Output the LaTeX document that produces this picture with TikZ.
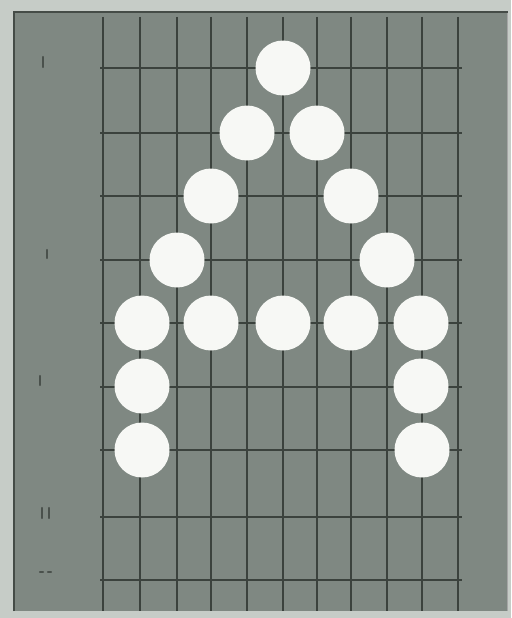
\documentclass[tikz,border=0pt]{standalone}
\definecolor{outerbg}{HTML}{C6CCC7}
\definecolor{panel}{HTML}{7F8882}
\definecolor{gridline}{HTML}{3B423D}
\definecolor{edge}{HTML}{454C47}
\definecolor{dotwhite}{HTML}{F7F8F5}
\definecolor{mark}{HTML}{4A514C}
\begin{document}
\begin{tikzpicture}[x=1pt,y=-1pt,
  gridv/.style={draw=gridline,line width=1.8pt},
  gridh/.style={draw=gridline,line width=1.8pt},
  stone/.style={circle,fill=dotwhite,minimum size=55pt,inner sep=0pt},
  tickmark/.style={draw=mark,line width=2.2pt,line cap=round}]
\useasboundingbox (0,0) rectangle (511,618);
\fill[outerbg] (0,0) rectangle (511,618);
\fill[panel] (13,12) rectangle (508,611);
\draw[edge,line width=2.5pt] (14,611) -- (14,12) -- (508,12);
\draw[gray!70,line width=1pt] (507,13) -- (507,611);
% vertical grid lines
\foreach \x in {103,140,177,211,247,283,317,351,387,422,458}
  \draw[gridv] (\x,17) -- (\x,611);
% horizontal grid lines
\foreach \y in {68,133,196,260,323,387,450,517,580}
  \draw[gridh] (100,\y) -- (462,\y);
% left tick marks
\draw[tickmark] (43,57) -- (43,67);
\draw[tickmark] (47,250) -- (47,258);
\draw[tickmark] (40,376) -- (40,385);
\draw[tickmark] (42,508) -- (42,518);
\draw[tickmark] (49,508) -- (49,518);
\draw[tickmark] (40,572) -- (43,572);
\draw[tickmark] (48,572) -- (51,572);
% stones forming the letter A
\node[stone] (s1) at (283,68) {};
\node[stone] (s2) at (247,133) {};
\node[stone] (s3) at (317,133) {};
\node[stone] (s4) at (211,196) {};
\node[stone] (s5) at (351,196) {};
\node[stone] (s6) at (177,260) {};
\node[stone] (s7) at (387,260) {};
\node[stone] (s8) at (142,323) {};
\node[stone] (s9) at (211,323) {};
\node[stone] (s10) at (283,323) {};
\node[stone] (s11) at (351,323) {};
\node[stone] (s12) at (421,323) {};
\node[stone] (s13) at (142,386) {};
\node[stone] (s14) at (421,386) {};
\node[stone] (s15) at (142,450) {};
\node[stone] (s16) at (422,450) {};
\end{tikzpicture}
\end{document}
